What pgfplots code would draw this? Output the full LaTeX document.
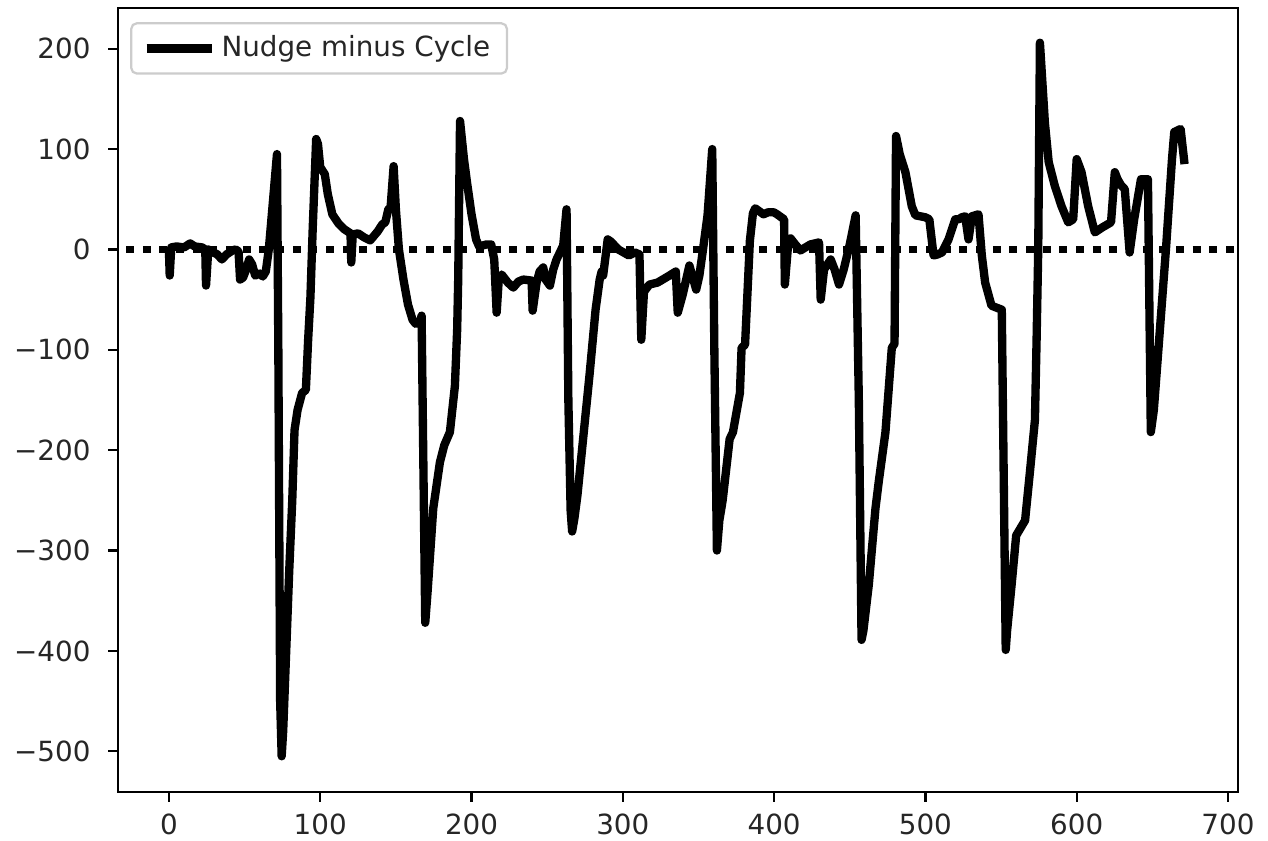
\documentclass[border=0pt]{standalone}
\usepackage{fontspec}
\setmainfont{DejaVu Sans}
\usepackage{pgfplots}
\pgfplotsset{compat=1.18}
\begin{document}
\begin{tikzpicture}
\begin{axis}[
  at={(0,0)}, anchor=south west,
  scale only axis, width=403.2pt, height=282.2pt,
  xmin=-33.65, xmax=706.65, ymin=-540.5, ymax=240.5,
  xtick={0,100,...,700},
  ytick={-500,-400,-300,-200,-100,0,100,200},
  yticklabels={−500,−400,−300,−200,−100,0,100,200},
  tick align=outside, major tick length=3.5pt,
  tick style={line width=0.8pt, black},
  axis line style={line width=0.8pt},
  tick pos=left,
  ticklabel style={font=\fontsize{10}{12}\selectfont, text=black!85},
  yticklabel style={xshift=-2.9pt},
  xticklabel style={yshift=-0.8pt},
  /pgf/number format/assume math mode=true,
  /pgf/number format/1000 sep={},
  legend style={at={(0.0108,0.982)}, anchor=north west, draw=black!20, line width=0.8pt,
    rounded corners=2pt, font=\fontsize{10}{12}\selectfont, fill=white, text=black!85,
    inner xsep=4pt, inner ysep=2.5pt},
  legend cell align=left,
]
\addplot[black, line width=3pt, line join=round,
  legend image code/.code={\draw[line width=3pt] (-3.8pt,0pt) -- (19.7pt,0pt);}]
coordinates {
(0,-2) (0.5,-26) (1.5,2) (5,3) (10,2) (14,6) (17,3) (22,2) (24,0) (24.5,-36) (26,0)
(28,-2) (32,-5) (35,-10) (38,-5) (42,-1) (44,0) (46,-2) (47,-30) (49,-28) (51,-20)
(53,-10) (55,-15) (57,-26) (60,-24) (62,-27) (64,-22) (66,0) (68,35) (71.4,95)
(72.3,-100) (73.5,-450) (74.5,-505) (75.5,-480) (77.5,-400) (79.5,-320) (81.5,-250)
(83,-180) (85,-160) (88,-143) (90.5,-140) (92,-90) (93.5,-48) (95,20) (97.3,110)
(98.5,105) (100,82) (103,75) (105,55) (108,35) (112,26) (116,20) (120,16) (120.5,-13)
(121.5,15) (125,16) (129,12) (133,9) (138,18) (141,25) (143,27) (145,40) (146.5,42)
(148.5,83) (150,40) (152,0) (155,-30) (158,-55) (161,-70) (163,-74) (166,-72) (167,-66)
(169.4,-372) (171,-340) (174.7,-258) (179.1,-212) (182,-195) (185.7,-182) (189,-136)
(190.5,-80) (191.2,-29) (192.4,128) (195,90) (197,67) (200,35) (203,10) (205,3)
(210,5) (213,5) (215,-10) (216.6,-63) (218,-30) (219.9,-25) (224,-33) (227.6,-38)
(231,-32) (234.2,-30) (239.7,-31) (240.4,-61) (243,-33) (245,-22) (247.4,-18) (249,-30)
(251.8,-36) (254,-20) (256.2,-10) (260.6,4) (262.8,40) (264,-150) (265.5,-260)
(266.5,-281) (268,-268) (270,-245) (273,-200) (278,-125) (282,-60) (284.7,-30)
(286,-22) (287,-26) (290,10) (292,8) (297,0) (304,-6) (308,-3) (311,-5) (312.2,-90)
(314,-42) (317.6,-35) (323,-33) (330.8,-26) (335,-22) (336.3,-63) (339.6,-45)
(344,-16) (348.5,-40) (350.6,-26) (353,0) (356,34) (359.1,100) (360.5,-100)
(362.2,-300) (363.8,-270) (366,-250) (370.6,-189) (372.8,-182) (377.4,-143)
(378.5,-98) (380.8,-95) (384,9) (386,36) (387.5,41) (393,35) (396,37) (399.8,37)
(402,35) (406.6,30) (407.1,-35) (409,0) (410.9,11) (414,5) (417.4,-1) (424,5)
(429.7,7) (430.8,-50) (433,-20) (437.4,-10) (440,-20) (442.9,-35) (446,-20) (450,5)
(453.9,34) (456,-150) (457.8,-389) (459,-380) (462.6,-334) (467,-258) (469.2,-231)
(473.6,-182) (477.8,-98) (479.6,-94) (480.6,113) (483,95) (486.8,77) (491,43)
(493.4,34) (500,32) (502.6,30) (505.4,-6) (508,-5) (511,-3) (515.3,10) (519.7,30)
(522,30) (524,32) (526.3,33) (528.5,10) (530.7,33) (535.1,35) (537.3,-6) (539.5,-33)
(543.7,-56) (547,-58) (550.5,-60) (553.1,-399) (554,-380) (557,-334) (560,-285)
(565.9,-270) (569.2,-220) (572.4,-170) (573.5,-90) (574.6,1) (575.7,206) (579,126)
(581.5,87) (585.6,63) (590,43) (594.4,27) (597.7,30) (600,90) (603.2,77) (607.6,43)
(612,17) (617,22) (622.7,27) (625.2,77) (627,70) (629.3,64) (631.8,60) (635,-3)
(638,30) (642.5,70) (647.1,70) (649,-182) (651,-160) (655,-80) (659,0) (663,90)
(664.5,117) (668.7,120) (671.3,85)
};
\addlegendentry{Nudge minus Cycle}
\addplot[black, line width=2.7pt, dash pattern=on 2.8pt off 3.2pt, dash phase=3.1pt, forget plot]
coordinates {(-33.65,0) (706.65,0)};
\end{axis}
\pgfresetboundingbox
\path[use as bounding box] (-42.5pt,-17.6pt) rectangle (414pt,285.1pt);
\end{tikzpicture}
\end{document}
